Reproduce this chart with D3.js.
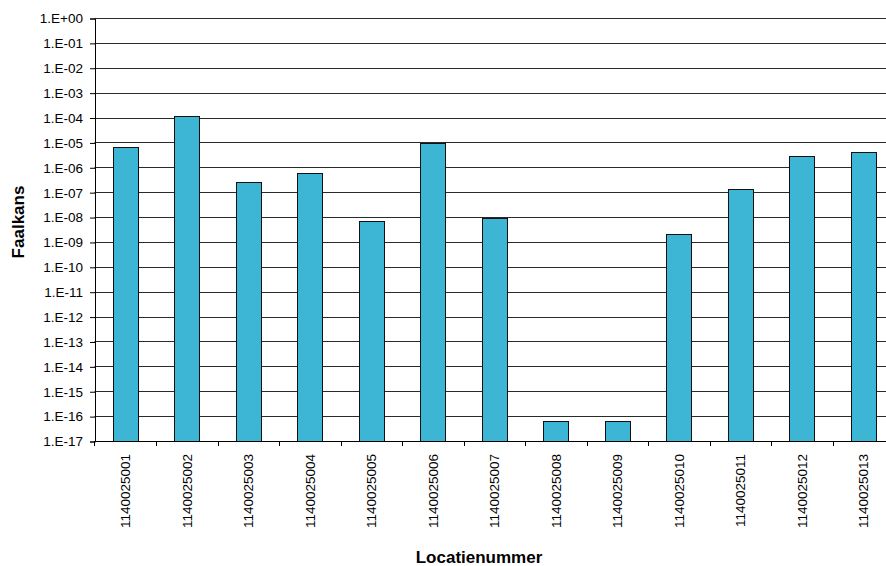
<!DOCTYPE html>
<html>
<head>
<meta charset="utf-8">
<script src="https://cdn.jsdelivr.net/npm/d3@7"></script>
<style>
  html, body { margin: 0; padding: 0; background: #fff; }
  svg { display: block; font-family: "Liberation Sans", Arial, sans-serif; }
</style>
</head>
<body>
<svg id="chart" width="886" height="566"></svg>
<script>
const categories = ["1140025001","1140025002","1140025003","1140025004","1140025005","1140025006","1140025007","1140025008","1140025009","1140025010","1140025011","1140025012","1140025013"];
const faalkans = [6.7e-6, 1.2e-4, 2.6e-7, 6.0e-7, 6.7e-9, 9.5e-6, 9.1e-9, 6.5e-17, 6.5e-17, 2.0e-9, 1.38e-7, 2.9e-6, 4.0e-6];
const yTickExponents = [0,-1,-2,-3,-4,-5,-6,-7,-8,-9,-10,-11,-12,-13,-14,-15,-16,-17];
const yTickLabels = ["1.E+00","1.E-01","1.E-02","1.E-03","1.E-04","1.E-05","1.E-06","1.E-07","1.E-08","1.E-09","1.E-10","1.E-11","1.E-12","1.E-13","1.E-14","1.E-15","1.E-16","1.E-17"];
const yTitle = "Faalkans";
const xTitle = "Locatienummer";

(function () {
const svg = d3.select("#chart");
const plotLeft = 94.5, plotRight = 894, plotTop = 18, plotBottom = 441;

const x = d3.scaleBand().domain(categories).range([plotLeft, plotRight]).paddingInner(0.6).paddingOuter(0.3);
const y = d3.scaleLog().domain([1e-17, 1]).range([plotBottom, plotTop]);
const tickVals = yTickExponents.map(e => Math.pow(10, e));

// gridlines
svg.append("g").selectAll("line").data(tickVals).join("line")
  .attr("x1", plotLeft).attr("x2", plotRight)
  .attr("y1", d => Math.round(y(d)) + 0.5).attr("y2", d => Math.round(y(d)) + 0.5)
  .attr("stroke", "#2a2a2a").attr("stroke-width", 1);

// bars
svg.append("g").selectAll("rect").data(faalkans).join("rect")
  .attr("x", (d, i) => Math.round(x(categories[i])) + 0.5)
  .attr("y", d => Math.round(y(d)) + 0.5)
  .attr("width", Math.round(x.bandwidth()))
  .attr("height", d => plotBottom - Math.round(y(d)))
  .attr("fill", "#3db5d5")
  .attr("stroke", "#111").attr("stroke-width", 1);

// y axis
const yAxis = d3.axisLeft(y).tickValues(tickVals)
  .tickFormat((d, i) => yTickLabels[i]).tickSize(5).tickPadding(7);
const gy = svg.append("g").attr("transform", `translate(${plotLeft + 0.5},0.5)`).call(yAxis);
gy.select(".domain").attr("stroke", "#000");
gy.selectAll(".tick line").attr("stroke", "#000");
gy.selectAll(".tick text").attr("font-size", "13.5px").attr("fill", "#000")
  .attr("font-family", "'Liberation Sans', Arial, sans-serif");

// x axis line + ticks between categories
svg.append("line").attr("x1", plotLeft).attr("x2", plotRight)
  .attr("y1", plotBottom + 0.5).attr("y2", plotBottom + 0.5).attr("stroke", "#000");
const step = x.step();
const boundaries = categories.map(c => x(c) + x.bandwidth() / 2 - step / 2).concat([plotRight]);
svg.append("g").selectAll("line").data(boundaries).join("line")
  .attr("x1", d => Math.round(d) + 0.5).attr("x2", d => Math.round(d) + 0.5)
  .attr("y1", plotBottom).attr("y2", plotBottom + 5)
  .attr("stroke", "#000");

// x labels
svg.append("g").selectAll("text").data(categories).join("text")
  .attr("transform", d => `translate(${x(d) + x.bandwidth() / 2 + 0.5},${plotBottom + 13}) rotate(-90)`)
  .attr("text-anchor", "end").attr("dy", "0.35em")
  .attr("font-size", "13.5px").attr("fill", "#000")
  .text(d => d);

// titles
svg.append("text")
  .attr("transform", `translate(24,222) rotate(-90)`)
  .attr("text-anchor", "middle").attr("font-weight", "bold").attr("font-size", "17px")
  .text(yTitle);
svg.append("text")
  .attr("x", 479).attr("y", 563)
  .attr("text-anchor", "middle").attr("font-weight", "bold").attr("font-size", "17px")
  .text(xTitle);
})();
</script>
</body>
</html>
